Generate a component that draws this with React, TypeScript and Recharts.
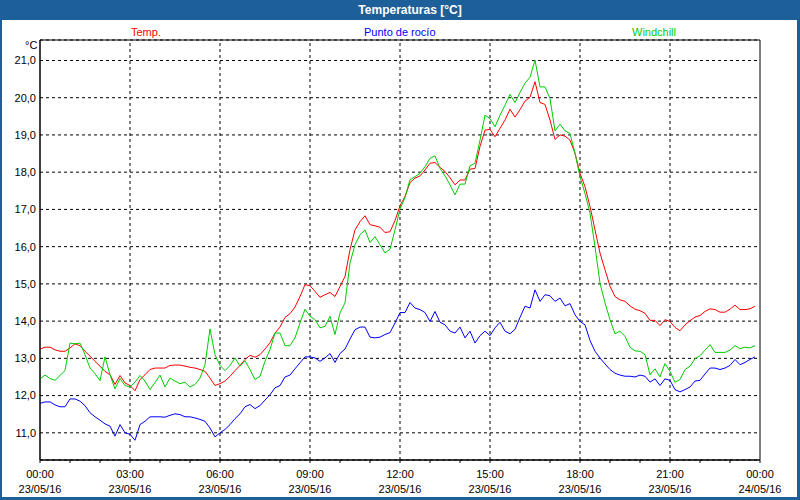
import React from "react"
import { LineChart, Line, XAxis, YAxis, CartesianGrid, ReferenceLine, ReferenceArea } from "recharts"

// minutes since 00:00, one reading every 10 minutes
const minutes = Array.from({ length: 144 }, (_, i) => i * 10)

const temp = [
  13.25, 13.3, 13.3, 13.23, 13.19, 13.19, 13.28, 13.39, 13.34, 13.19, 13.06, 12.92,
  12.79, 12.65, 12.56, 12.3, 12.54, 12.34, 12.27, 12.13, 12.43, 12.56, 12.7, 12.74,
  12.74, 12.74, 12.81, 12.82, 12.82, 12.79, 12.76, 12.74, 12.7, 12.65, 12.47, 12.27,
  12.32, 12.39, 12.52, 12.67, 12.81, 12.97, 13.08, 13.03, 13.1, 13.25, 13.42, 13.68,
  13.84, 14.1, 14.2, 14.38, 14.66, 14.98, 14.95, 14.8, 14.64, 14.71, 14.77, 14.66,
  14.93, 15.2, 15.92, 16.45, 16.67, 16.83, 16.59, 16.56, 16.52, 16.38, 16.4, 16.7,
  17.1, 17.35, 17.72, 17.84, 17.9, 18.06, 18.24, 18.26, 18.13, 18.02, 17.85, 17.66,
  17.79, 17.79, 18.08, 18.1, 18.69, 19.13, 19.15, 18.95, 19.18, 19.4, 19.69, 19.48,
  19.68, 19.91, 20.01, 20.43, 19.87, 19.82, 19.4, 18.88, 19.0, 18.97, 18.86, 18.51,
  17.97, 17.61, 17.08, 16.45, 15.83, 15.38, 14.94, 14.66, 14.57, 14.53, 14.41, 14.32,
  14.28, 14.21, 14.02, 14.02, 13.88, 14.04, 13.99, 13.83, 13.74, 13.9, 14.01, 14.11,
  14.15, 14.26, 14.33, 14.31, 14.24, 14.24, 14.32, 14.43, 14.31, 14.31, 14.33, 14.4,
]

const dewPoint = [
  11.79, 11.83, 11.83, 11.75, 11.7, 11.7, 11.91, 11.91, 11.85, 11.73, 11.54, 11.43,
  11.34, 11.24, 11.18, 10.91, 11.22, 11.0, 10.96, 10.8, 11.22, 11.31, 11.43, 11.43,
  11.43, 11.42, 11.47, 11.51, 11.49, 11.43, 11.43, 11.4, 11.36, 11.31, 11.13, 10.89,
  11.0, 11.09, 11.22, 11.38, 11.51, 11.7, 11.76, 11.65, 11.73, 11.88, 12.02, 12.21,
  12.27, 12.5, 12.55, 12.72, 12.88, 13.04, 13.04, 13.01, 12.92, 13.01, 13.13, 12.89,
  13.13, 13.25, 13.52, 13.77, 13.84, 13.84, 13.57, 13.55, 13.57, 13.64, 13.69, 13.95,
  14.23, 14.23, 14.5, 14.35, 14.31, 14.23, 13.99, 14.26, 13.97, 13.9, 13.73, 13.68,
  13.84, 13.55, 13.73, 13.41, 13.61, 13.73, 13.61, 13.82, 13.97, 13.73, 13.66, 13.78,
  14.1, 14.4, 14.35, 14.84, 14.53, 14.71, 14.68, 14.53, 14.62, 14.41, 14.47, 14.17,
  13.99, 13.9, 13.48, 13.19, 13.01, 12.85, 12.7, 12.6, 12.55, 12.52, 12.52, 12.5,
  12.55, 12.52, 12.36, 12.45, 12.27, 12.45, 12.41, 12.16, 12.1, 12.16, 12.23, 12.39,
  12.41, 12.58, 12.74, 12.74, 12.7, 12.74, 12.81, 12.97, 12.83, 12.89, 12.97, 13.04,
]

const windchill = [
  12.45, 12.55, 12.46, 12.41, 12.54, 12.67, 13.41, 13.39, 13.41, 13.1, 12.74, 12.59,
  12.4, 13.04, 12.56, 12.18, 12.46, 12.27, 12.23, 12.36, 12.54, 12.39, 12.16, 12.35,
  12.55, 12.23, 12.47, 12.39, 12.32, 12.36, 12.23, 12.3, 12.47, 12.83, 13.79, 13.1,
  12.81, 12.67, 12.81, 13.01, 12.79, 12.94, 12.7, 12.43, 12.52, 12.92, 13.24, 13.68,
  13.68, 13.34, 13.34, 13.55, 13.95, 14.32, 14.13, 14.04, 13.82, 13.86, 14.13, 13.64,
  14.22, 14.49, 15.56, 16.05, 16.32, 16.45, 16.11, 16.27, 16.05, 15.83, 15.93, 16.45,
  17.01, 17.32, 17.8, 17.88, 17.97, 18.15, 18.37, 18.44, 18.1, 17.9, 17.66, 17.39,
  17.68, 17.68, 18.17, 18.24, 18.86, 19.53, 19.44, 19.22, 19.53, 19.8, 20.09, 19.87,
  20.14, 20.39, 20.55, 21.01, 20.29, 20.29, 19.98, 19.11, 19.29, 19.11, 19.04, 18.51,
  17.88, 17.43, 16.9, 16.0, 15.02, 14.49, 14.04, 13.66, 13.73, 13.59, 13.3, 13.2,
  13.19, 13.1, 12.56, 12.72, 12.5, 12.86, 12.65, 12.36, 12.43, 12.7, 12.79, 12.99,
  13.07, 13.22, 13.37, 13.16, 13.16, 13.16, 13.22, 13.34, 13.26, 13.3, 13.28, 13.34,
]

const hourTicks = Array.from({ length: 25 }, (_, h) => h * 60)
const majorTicks = [180, 360, 540, 720, 900, 1080, 1260]
const yTicks = [11, 12, 13, 14, 15, 16, 17, 18, 19, 20, 21]
const Y_MIN = 10.27
const Y_MAX = 21.55

const data = minutes.map((t, i) => ({ t, temp: temp[i], dew: dewPoint[i], wind: windchill[i] }))

const font = "'Liberation Sans', Arial, sans-serif"

function TimeTick(props: any) {
  const { x, y, payload } = props
  const v = payload.value
  if (v % 180 !== 0) return null
  const hh = String((v / 60) % 24).padStart(2, "0")
  const date = v >= 1440 ? "24/05/16" : "23/05/16"
  return (
    <g>
      <text x={x} y={y + 13} textAnchor="middle" fontSize={11} fontFamily={font} fill="#000">
        {hh}:00
      </text>
      <text x={x} y={y + 28} textAnchor="middle" fontSize={11} fontFamily={font} fill="#000">
        {date}
      </text>
    </g>
  )
}

export default function App() {
  return (
    <div style={{ position: "absolute", left: 0, top: 0, width: 800, height: 500, background: "#1d5f98" }}>
      <div style={{ position: "absolute", left: 2, top: 20, width: 795, height: 477, background: "#fff" }} />
      <div
        style={{
          position: "absolute", left: 0, top: 3, width: 820, textAlign: "center",
          color: "#fff", fontFamily: font, fontWeight: "bold", fontSize: 12,
        }}
      >
        Temperaturas [°C]
      </div>
      <div style={{ position: "absolute", left: 131, top: 26, fontFamily: font, fontSize: 11, color: "#ff0000" }}>Temp.</div>
      <div style={{ position: "absolute", left: 364, top: 26, fontFamily: font, fontSize: 11, color: "#0000ff" }}>Punto de rocío</div>
      <div style={{ position: "absolute", left: 632, top: 26, fontFamily: font, fontSize: 11, color: "#00cc00" }}>Windchill</div>
      <div style={{ position: "absolute", left: 25, top: 39, fontFamily: font, fontSize: 11, color: "#000" }}>°C</div>
      <div style={{ position: "absolute", left: 0, top: 0 }}>
        <LineChart width={800} height={500} data={data} margin={{ top: 40, right: 40, left: 0, bottom: 0 }}>
          <CartesianGrid vertical={false} stroke="#000" strokeDasharray="3 3" />
          <XAxis
            dataKey="t"
            type="number"
            domain={[0, 1440]}
            ticks={hourTicks}
            interval={0}
            height={40}
            tickSize={3}
            tickMargin={2}
            stroke="#000"
            tickLine={{ stroke: "#000" }}
            axisLine={{ stroke: "#000" }}
            tick={<TimeTick />}
          />
          <YAxis
            type="number"
            domain={[Y_MIN, Y_MAX]}
            ticks={yTicks}
            interval={0}
            width={40}
            allowDataOverflow
            tickLine={false}
            tickSize={0}
            tickMargin={4}
            axisLine={{ stroke: "#000" }}
            tick={{ fill: "#000", fontSize: 11, fontFamily: font }}
            tickFormatter={(v: number) => v.toFixed(1).replace(".", ",")}
          />
          {majorTicks.map((m) => (
            <ReferenceLine key={m} x={m} stroke="#000" strokeDasharray="3 3" />
          ))}
          <ReferenceArea x1={0} x2={1440} y1={Y_MIN} y2={Y_MAX} fill="none" stroke="#000" strokeWidth={1} fillOpacity={0} />
          <Line dataKey="dew" stroke="#0000ff" strokeWidth={1} dot={false} isAnimationActive={false} />
          <Line dataKey="temp" stroke="#ff0000" strokeWidth={1} dot={false} isAnimationActive={false} />
          <Line dataKey="wind" stroke="#00cc00" strokeWidth={1} dot={false} isAnimationActive={false} />
        </LineChart>
      </div>
    </div>
  )
}
